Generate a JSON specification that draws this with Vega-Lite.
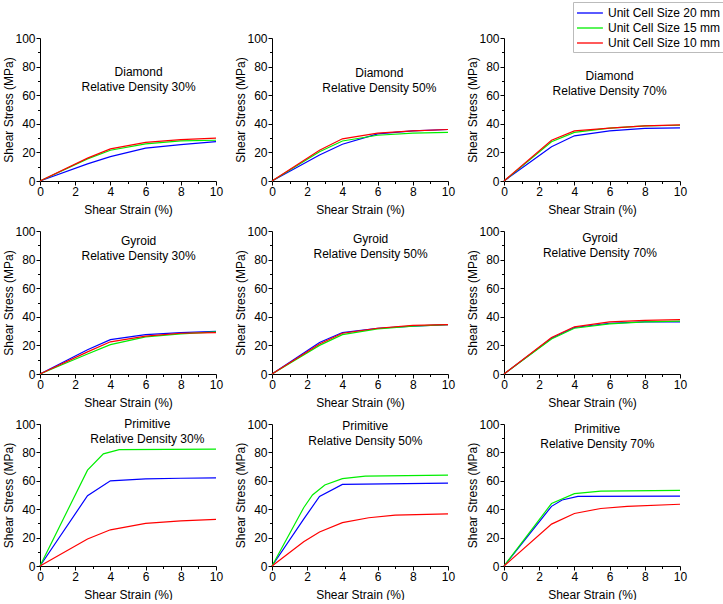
{
  "$schema": "https://vega.github.io/schema/vega-lite/v6.json",
  "padding": {"left": 2, "top": 1, "right": 0, "bottom": 0},
  "background": "white",
  "datasets": {
    "curves": [
      {"panel":"D30","series":"Unit Cell Size 20 mm","strain":0,"stress":0},
      {"panel":"D30","series":"Unit Cell Size 20 mm","strain":2.7,"stress":12},
      {"panel":"D30","series":"Unit Cell Size 20 mm","strain":4,"stress":17},
      {"panel":"D30","series":"Unit Cell Size 20 mm","strain":6,"stress":23},
      {"panel":"D30","series":"Unit Cell Size 20 mm","strain":8,"stress":25.5},
      {"panel":"D30","series":"Unit Cell Size 20 mm","strain":10,"stress":27.5},
      {"panel":"D30","series":"Unit Cell Size 15 mm","strain":0,"stress":0},
      {"panel":"D30","series":"Unit Cell Size 15 mm","strain":2.7,"stress":15.5},
      {"panel":"D30","series":"Unit Cell Size 15 mm","strain":4,"stress":21.5},
      {"panel":"D30","series":"Unit Cell Size 15 mm","strain":6,"stress":26},
      {"panel":"D30","series":"Unit Cell Size 15 mm","strain":8,"stress":28},
      {"panel":"D30","series":"Unit Cell Size 15 mm","strain":10,"stress":28.5},
      {"panel":"D30","series":"Unit Cell Size 10 mm","strain":0,"stress":0},
      {"panel":"D30","series":"Unit Cell Size 10 mm","strain":2.7,"stress":16},
      {"panel":"D30","series":"Unit Cell Size 10 mm","strain":4,"stress":22.5},
      {"panel":"D30","series":"Unit Cell Size 10 mm","strain":6,"stress":27},
      {"panel":"D30","series":"Unit Cell Size 10 mm","strain":8,"stress":29},
      {"panel":"D30","series":"Unit Cell Size 10 mm","strain":10,"stress":30},

      {"panel":"D50","series":"Unit Cell Size 20 mm","strain":0,"stress":0},
      {"panel":"D50","series":"Unit Cell Size 20 mm","strain":2.7,"stress":18.2},
      {"panel":"D50","series":"Unit Cell Size 20 mm","strain":4,"stress":25.7},
      {"panel":"D50","series":"Unit Cell Size 20 mm","strain":6,"stress":33},
      {"panel":"D50","series":"Unit Cell Size 20 mm","strain":8,"stress":35},
      {"panel":"D50","series":"Unit Cell Size 20 mm","strain":10,"stress":36},
      {"panel":"D50","series":"Unit Cell Size 15 mm","strain":0,"stress":0},
      {"panel":"D50","series":"Unit Cell Size 15 mm","strain":2.7,"stress":20.5},
      {"panel":"D50","series":"Unit Cell Size 15 mm","strain":4,"stress":28},
      {"panel":"D50","series":"Unit Cell Size 15 mm","strain":6,"stress":32},
      {"panel":"D50","series":"Unit Cell Size 15 mm","strain":8,"stress":33.5},
      {"panel":"D50","series":"Unit Cell Size 15 mm","strain":10,"stress":34},
      {"panel":"D50","series":"Unit Cell Size 10 mm","strain":0,"stress":0},
      {"panel":"D50","series":"Unit Cell Size 10 mm","strain":2.7,"stress":21.5},
      {"panel":"D50","series":"Unit Cell Size 10 mm","strain":4,"stress":29.5},
      {"panel":"D50","series":"Unit Cell Size 10 mm","strain":6,"stress":33.5},
      {"panel":"D50","series":"Unit Cell Size 10 mm","strain":8,"stress":35},
      {"panel":"D50","series":"Unit Cell Size 10 mm","strain":10,"stress":36},

      {"panel":"D70","series":"Unit Cell Size 20 mm","strain":0,"stress":0},
      {"panel":"D70","series":"Unit Cell Size 20 mm","strain":2.7,"stress":24},
      {"panel":"D70","series":"Unit Cell Size 20 mm","strain":4,"stress":31.6},
      {"panel":"D70","series":"Unit Cell Size 20 mm","strain":6,"stress":35},
      {"panel":"D70","series":"Unit Cell Size 20 mm","strain":8,"stress":36.8},
      {"panel":"D70","series":"Unit Cell Size 20 mm","strain":10,"stress":37.2},
      {"panel":"D70","series":"Unit Cell Size 15 mm","strain":0,"stress":0},
      {"panel":"D70","series":"Unit Cell Size 15 mm","strain":2.7,"stress":27.5},
      {"panel":"D70","series":"Unit Cell Size 15 mm","strain":4,"stress":34},
      {"panel":"D70","series":"Unit Cell Size 15 mm","strain":6,"stress":37},
      {"panel":"D70","series":"Unit Cell Size 15 mm","strain":8,"stress":38.5},
      {"panel":"D70","series":"Unit Cell Size 15 mm","strain":10,"stress":39},
      {"panel":"D70","series":"Unit Cell Size 10 mm","strain":0,"stress":0},
      {"panel":"D70","series":"Unit Cell Size 10 mm","strain":2.7,"stress":28.5},
      {"panel":"D70","series":"Unit Cell Size 10 mm","strain":4,"stress":35},
      {"panel":"D70","series":"Unit Cell Size 10 mm","strain":6,"stress":37},
      {"panel":"D70","series":"Unit Cell Size 10 mm","strain":8,"stress":38.5},
      {"panel":"D70","series":"Unit Cell Size 10 mm","strain":10,"stress":39.3},

      {"panel":"G30","series":"Unit Cell Size 20 mm","strain":0,"stress":0},
      {"panel":"G30","series":"Unit Cell Size 20 mm","strain":2.7,"stress":17},
      {"panel":"G30","series":"Unit Cell Size 20 mm","strain":4,"stress":24},
      {"panel":"G30","series":"Unit Cell Size 20 mm","strain":6,"stress":27.5},
      {"panel":"G30","series":"Unit Cell Size 20 mm","strain":8,"stress":29},
      {"panel":"G30","series":"Unit Cell Size 20 mm","strain":10,"stress":29.8},
      {"panel":"G30","series":"Unit Cell Size 15 mm","strain":0,"stress":0},
      {"panel":"G30","series":"Unit Cell Size 15 mm","strain":2.7,"stress":14},
      {"panel":"G30","series":"Unit Cell Size 15 mm","strain":4,"stress":20.5},
      {"panel":"G30","series":"Unit Cell Size 15 mm","strain":6,"stress":26},
      {"panel":"G30","series":"Unit Cell Size 15 mm","strain":8,"stress":28},
      {"panel":"G30","series":"Unit Cell Size 15 mm","strain":10,"stress":29.5},
      {"panel":"G30","series":"Unit Cell Size 10 mm","strain":0,"stress":0},
      {"panel":"G30","series":"Unit Cell Size 10 mm","strain":2.7,"stress":15.5},
      {"panel":"G30","series":"Unit Cell Size 10 mm","strain":4,"stress":22.5},
      {"panel":"G30","series":"Unit Cell Size 10 mm","strain":6,"stress":26.5},
      {"panel":"G30","series":"Unit Cell Size 10 mm","strain":8,"stress":28.5},
      {"panel":"G30","series":"Unit Cell Size 10 mm","strain":10,"stress":29},

      {"panel":"G50","series":"Unit Cell Size 20 mm","strain":0,"stress":0},
      {"panel":"G50","series":"Unit Cell Size 20 mm","strain":2.7,"stress":22},
      {"panel":"G50","series":"Unit Cell Size 20 mm","strain":4,"stress":29},
      {"panel":"G50","series":"Unit Cell Size 20 mm","strain":6,"stress":32},
      {"panel":"G50","series":"Unit Cell Size 20 mm","strain":8,"stress":33.5},
      {"panel":"G50","series":"Unit Cell Size 20 mm","strain":10,"stress":34.5},
      {"panel":"G50","series":"Unit Cell Size 15 mm","strain":0,"stress":0},
      {"panel":"G50","series":"Unit Cell Size 15 mm","strain":2.7,"stress":20},
      {"panel":"G50","series":"Unit Cell Size 15 mm","strain":4,"stress":27.5},
      {"panel":"G50","series":"Unit Cell Size 15 mm","strain":6,"stress":31.5},
      {"panel":"G50","series":"Unit Cell Size 15 mm","strain":8,"stress":33.5},
      {"panel":"G50","series":"Unit Cell Size 15 mm","strain":10,"stress":34.5},
      {"panel":"G50","series":"Unit Cell Size 10 mm","strain":0,"stress":0},
      {"panel":"G50","series":"Unit Cell Size 10 mm","strain":2.7,"stress":21},
      {"panel":"G50","series":"Unit Cell Size 10 mm","strain":4,"stress":28.5},
      {"panel":"G50","series":"Unit Cell Size 10 mm","strain":6,"stress":32},
      {"panel":"G50","series":"Unit Cell Size 10 mm","strain":8,"stress":34},
      {"panel":"G50","series":"Unit Cell Size 10 mm","strain":10,"stress":34.5},

      {"panel":"G70","series":"Unit Cell Size 20 mm","strain":0,"stress":0},
      {"panel":"G70","series":"Unit Cell Size 20 mm","strain":2.7,"stress":25},
      {"panel":"G70","series":"Unit Cell Size 20 mm","strain":4,"stress":32.5},
      {"panel":"G70","series":"Unit Cell Size 20 mm","strain":6,"stress":35.5},
      {"panel":"G70","series":"Unit Cell Size 20 mm","strain":8,"stress":36.5},
      {"panel":"G70","series":"Unit Cell Size 20 mm","strain":10,"stress":36.5},
      {"panel":"G70","series":"Unit Cell Size 15 mm","strain":0,"stress":0},
      {"panel":"G70","series":"Unit Cell Size 15 mm","strain":2.7,"stress":24.5},
      {"panel":"G70","series":"Unit Cell Size 15 mm","strain":4,"stress":32},
      {"panel":"G70","series":"Unit Cell Size 15 mm","strain":6,"stress":35},
      {"panel":"G70","series":"Unit Cell Size 15 mm","strain":8,"stress":36.5},
      {"panel":"G70","series":"Unit Cell Size 15 mm","strain":10,"stress":37},
      {"panel":"G70","series":"Unit Cell Size 10 mm","strain":0,"stress":0},
      {"panel":"G70","series":"Unit Cell Size 10 mm","strain":2.7,"stress":25.5},
      {"panel":"G70","series":"Unit Cell Size 10 mm","strain":4,"stress":33},
      {"panel":"G70","series":"Unit Cell Size 10 mm","strain":6,"stress":36.5},
      {"panel":"G70","series":"Unit Cell Size 10 mm","strain":8,"stress":37.5},
      {"panel":"G70","series":"Unit Cell Size 10 mm","strain":10,"stress":38},

      {"panel":"P30","series":"Unit Cell Size 20 mm","strain":0,"stress":0},
      {"panel":"P30","series":"Unit Cell Size 20 mm","strain":2.7,"stress":49.5},
      {"panel":"P30","series":"Unit Cell Size 20 mm","strain":4,"stress":60},
      {"panel":"P30","series":"Unit Cell Size 20 mm","strain":6,"stress":61.3},
      {"panel":"P30","series":"Unit Cell Size 20 mm","strain":8,"stress":61.8},
      {"panel":"P30","series":"Unit Cell Size 20 mm","strain":10,"stress":62},
      {"panel":"P30","series":"Unit Cell Size 15 mm","strain":0,"stress":0},
      {"panel":"P30","series":"Unit Cell Size 15 mm","strain":2.7,"stress":67.5},
      {"panel":"P30","series":"Unit Cell Size 15 mm","strain":3.6,"stress":79},
      {"panel":"P30","series":"Unit Cell Size 15 mm","strain":4.5,"stress":82},
      {"panel":"P30","series":"Unit Cell Size 15 mm","strain":10,"stress":82.3},
      {"panel":"P30","series":"Unit Cell Size 10 mm","strain":0,"stress":0},
      {"panel":"P30","series":"Unit Cell Size 10 mm","strain":2.7,"stress":19},
      {"panel":"P30","series":"Unit Cell Size 10 mm","strain":4,"stress":25.5},
      {"panel":"P30","series":"Unit Cell Size 10 mm","strain":6,"stress":30},
      {"panel":"P30","series":"Unit Cell Size 10 mm","strain":8,"stress":31.8},
      {"panel":"P30","series":"Unit Cell Size 10 mm","strain":10,"stress":32.8},

      {"panel":"P50","series":"Unit Cell Size 20 mm","strain":0,"stress":0},
      {"panel":"P50","series":"Unit Cell Size 20 mm","strain":1.8,"stress":33},
      {"panel":"P50","series":"Unit Cell Size 20 mm","strain":2.7,"stress":49},
      {"panel":"P50","series":"Unit Cell Size 20 mm","strain":4,"stress":57.5},
      {"panel":"P50","series":"Unit Cell Size 20 mm","strain":10,"stress":58.3},
      {"panel":"P50","series":"Unit Cell Size 15 mm","strain":0,"stress":0},
      {"panel":"P50","series":"Unit Cell Size 15 mm","strain":1.8,"stress":41},
      {"panel":"P50","series":"Unit Cell Size 15 mm","strain":2.3,"stress":50},
      {"panel":"P50","series":"Unit Cell Size 15 mm","strain":3,"stress":57},
      {"panel":"P50","series":"Unit Cell Size 15 mm","strain":4,"stress":61.5},
      {"panel":"P50","series":"Unit Cell Size 15 mm","strain":5.3,"stress":63.3},
      {"panel":"P50","series":"Unit Cell Size 15 mm","strain":10,"stress":64},
      {"panel":"P50","series":"Unit Cell Size 10 mm","strain":0,"stress":0},
      {"panel":"P50","series":"Unit Cell Size 10 mm","strain":1.8,"stress":17},
      {"panel":"P50","series":"Unit Cell Size 10 mm","strain":2.7,"stress":24},
      {"panel":"P50","series":"Unit Cell Size 10 mm","strain":4,"stress":30.5},
      {"panel":"P50","series":"Unit Cell Size 10 mm","strain":5.5,"stress":34},
      {"panel":"P50","series":"Unit Cell Size 10 mm","strain":7,"stress":35.8},
      {"panel":"P50","series":"Unit Cell Size 10 mm","strain":10,"stress":36.7},

      {"panel":"P70","series":"Unit Cell Size 20 mm","strain":0,"stress":0},
      {"panel":"P70","series":"Unit Cell Size 20 mm","strain":2.7,"stress":42},
      {"panel":"P70","series":"Unit Cell Size 20 mm","strain":3.3,"stress":46.5},
      {"panel":"P70","series":"Unit Cell Size 20 mm","strain":4.2,"stress":49},
      {"panel":"P70","series":"Unit Cell Size 20 mm","strain":10,"stress":49.2},
      {"panel":"P70","series":"Unit Cell Size 15 mm","strain":0,"stress":0},
      {"panel":"P70","series":"Unit Cell Size 15 mm","strain":2.7,"stress":44},
      {"panel":"P70","series":"Unit Cell Size 15 mm","strain":4,"stress":51},
      {"panel":"P70","series":"Unit Cell Size 15 mm","strain":5.5,"stress":52.7},
      {"panel":"P70","series":"Unit Cell Size 15 mm","strain":10,"stress":53.3},
      {"panel":"P70","series":"Unit Cell Size 10 mm","strain":0,"stress":0},
      {"panel":"P70","series":"Unit Cell Size 10 mm","strain":2.7,"stress":29.5},
      {"panel":"P70","series":"Unit Cell Size 10 mm","strain":4,"stress":37},
      {"panel":"P70","series":"Unit Cell Size 10 mm","strain":5.5,"stress":40.5},
      {"panel":"P70","series":"Unit Cell Size 10 mm","strain":7,"stress":42},
      {"panel":"P70","series":"Unit Cell Size 10 mm","strain":10,"stress":43.5}
    ],
    "titles": [
      {"panel":"D30","label":"Diamond\nRelative Density 30%"},
      {"panel":"D50","label":"Diamond\nRelative Density 50%"},
      {"panel":"D70","label":"Diamond\nRelative Density 70%"},
      {"panel":"G30","label":"Gyroid\nRelative Density 30%"},
      {"panel":"G50","label":"Gyroid\nRelative Density 50%"},
      {"panel":"G70","label":"Gyroid\nRelative Density 70%"},
      {"panel":"P30","label":"Primitive\nRelative Density 30%"},
      {"panel":"P50","label":"Primitive\nRelative Density 50%"},
      {"panel":"P70","label":"Primitive\nRelative Density 70%"}
    ]
  },
  "data": {"name": "curves"},
  "columns": 3,
  "spacing": {"row": 50, "column": 56},
  "bounds": "flush",
  "concat": [
      {"width":176,"height":143,"resolve":{"axis":{"x":"independent","y":"independent"}},"layer":[
        {"transform":[{"filter":"datum.panel === 'D30'"}],"mark":{"type":"line","strokeWidth":1.2},"encoding":{"x":{"field":"strain","type":"quantitative","scale":{"domain":[0,10],"nice":false},"axis":{"title":"Shear Strain (%)","orient":"bottom","values":[0,2,4,6,8,10]}},"y":{"field":"stress","type":"quantitative","scale":{"domain":[0,100],"nice":false},"axis":{"title":"Shear Stress (MPa)","orient":"left","values":[0,20,40,60,80,100]}},"color":{"field":"series","type":"nominal","scale":{"domain":["Unit Cell Size 20 mm","Unit Cell Size 15 mm","Unit Cell Size 10 mm"],"range":["#0000ff","#00ee00","#ff0000"]},"legend":{"title":null,"orient":"none","legendX":533,"legendY":-36}}}},
        {"data":{"name":"titles"},"transform":[{"filter":"datum.panel === 'D30'"}],"mark":{"type":"text","lineBreak":"\n","fontSize":12,"lineHeight":15,"baseline":"middle","align":"center","font":"Liberation Sans","color":"#000"},"encoding":{"x":{"datum":5.6,"type":"quantitative","axis":{"orient":"bottom","values":[1,3,5,7,9],"labels":false,"domain":false,"title":null,"tickSize":2.5}},"y":{"datum":76.2,"type":"quantitative","axis":{"orient":"left","values":[10,30,50,70,90],"labels":false,"domain":false,"title":null,"tickSize":2.5}},"text":{"field":"label"}}}
      ]},
      {"width":176,"height":143,"resolve":{"axis":{"x":"independent","y":"independent"}},"layer":[
        {"transform":[{"filter":"datum.panel === 'D50'"}],"mark":{"type":"line","strokeWidth":1.2},"encoding":{"x":{"field":"strain","type":"quantitative","scale":{"domain":[0,10],"nice":false},"axis":{"title":"Shear Strain (%)","orient":"bottom","values":[0,2,4,6,8,10]}},"y":{"field":"stress","type":"quantitative","scale":{"domain":[0,100],"nice":false},"axis":{"title":"Shear Stress (MPa)","orient":"left","values":[0,20,40,60,80,100]}},"color":{"field":"series","type":"nominal"}}},
        {"data":{"name":"titles"},"transform":[{"filter":"datum.panel === 'D50'"}],"mark":{"type":"text","lineBreak":"\n","fontSize":12,"lineHeight":15,"baseline":"middle","align":"center","font":"Liberation Sans","color":"#000"},"encoding":{"x":{"datum":6.1,"type":"quantitative","axis":{"orient":"bottom","values":[1,3,5,7,9],"labels":false,"domain":false,"title":null,"tickSize":2.5}},"y":{"datum":75.7,"type":"quantitative","axis":{"orient":"left","values":[10,30,50,70,90],"labels":false,"domain":false,"title":null,"tickSize":2.5}},"text":{"field":"label"}}}
      ]},
      {"width":176,"height":143,"resolve":{"axis":{"x":"independent","y":"independent"}},"layer":[
        {"transform":[{"filter":"datum.panel === 'D70'"}],"mark":{"type":"line","strokeWidth":1.2},"encoding":{"x":{"field":"strain","type":"quantitative","scale":{"domain":[0,10],"nice":false},"axis":{"title":"Shear Strain (%)","orient":"bottom","values":[0,2,4,6,8,10]}},"y":{"field":"stress","type":"quantitative","scale":{"domain":[0,100],"nice":false},"axis":{"title":"Shear Stress (MPa)","orient":"left","values":[0,20,40,60,80,100]}},"color":{"field":"series","type":"nominal"}}},
        {"data":{"name":"titles"},"transform":[{"filter":"datum.panel === 'D70'"}],"mark":{"type":"text","lineBreak":"\n","fontSize":12,"lineHeight":15,"baseline":"middle","align":"center","font":"Liberation Sans","color":"#000"},"encoding":{"x":{"datum":6.0,"type":"quantitative","axis":{"orient":"bottom","values":[1,3,5,7,9],"labels":false,"domain":false,"title":null,"tickSize":2.5}},"y":{"datum":73.2,"type":"quantitative","axis":{"orient":"left","values":[10,30,50,70,90],"labels":false,"domain":false,"title":null,"tickSize":2.5}},"text":{"field":"label"}}}
      ]},
      {"width":176,"height":143,"resolve":{"axis":{"x":"independent","y":"independent"}},"layer":[
        {"transform":[{"filter":"datum.panel === 'G30'"}],"mark":{"type":"line","strokeWidth":1.2},"encoding":{"x":{"field":"strain","type":"quantitative","scale":{"domain":[0,10],"nice":false},"axis":{"title":"Shear Strain (%)","orient":"bottom","values":[0,2,4,6,8,10]}},"y":{"field":"stress","type":"quantitative","scale":{"domain":[0,100],"nice":false},"axis":{"title":"Shear Stress (MPa)","orient":"left","values":[0,20,40,60,80,100]}},"color":{"field":"series","type":"nominal"}}},
        {"data":{"name":"titles"},"transform":[{"filter":"datum.panel === 'G30'"}],"mark":{"type":"text","lineBreak":"\n","fontSize":12,"lineHeight":15,"baseline":"middle","align":"center","font":"Liberation Sans","color":"#000"},"encoding":{"x":{"datum":5.6,"type":"quantitative","axis":{"orient":"bottom","values":[1,3,5,7,9],"labels":false,"domain":false,"title":null,"tickSize":2.5}},"y":{"datum":93,"type":"quantitative","axis":{"orient":"left","values":[10,30,50,70,90],"labels":false,"domain":false,"title":null,"tickSize":2.5}},"text":{"field":"label"}}}
      ]},
      {"width":176,"height":143,"resolve":{"axis":{"x":"independent","y":"independent"}},"layer":[
        {"transform":[{"filter":"datum.panel === 'G50'"}],"mark":{"type":"line","strokeWidth":1.2},"encoding":{"x":{"field":"strain","type":"quantitative","scale":{"domain":[0,10],"nice":false},"axis":{"title":"Shear Strain (%)","orient":"bottom","values":[0,2,4,6,8,10]}},"y":{"field":"stress","type":"quantitative","scale":{"domain":[0,100],"nice":false},"axis":{"title":"Shear Stress (MPa)","orient":"left","values":[0,20,40,60,80,100]}},"color":{"field":"series","type":"nominal"}}},
        {"data":{"name":"titles"},"transform":[{"filter":"datum.panel === 'G50'"}],"mark":{"type":"text","lineBreak":"\n","fontSize":12,"lineHeight":15,"baseline":"middle","align":"center","font":"Liberation Sans","color":"#000"},"encoding":{"x":{"datum":5.6,"type":"quantitative","axis":{"orient":"bottom","values":[1,3,5,7,9],"labels":false,"domain":false,"title":null,"tickSize":2.5}},"y":{"datum":94.2,"type":"quantitative","axis":{"orient":"left","values":[10,30,50,70,90],"labels":false,"domain":false,"title":null,"tickSize":2.5}},"text":{"field":"label"}}}
      ]},
      {"width":176,"height":143,"resolve":{"axis":{"x":"independent","y":"independent"}},"layer":[
        {"transform":[{"filter":"datum.panel === 'G70'"}],"mark":{"type":"line","strokeWidth":1.2},"encoding":{"x":{"field":"strain","type":"quantitative","scale":{"domain":[0,10],"nice":false},"axis":{"title":"Shear Strain (%)","orient":"bottom","values":[0,2,4,6,8,10]}},"y":{"field":"stress","type":"quantitative","scale":{"domain":[0,100],"nice":false},"axis":{"title":"Shear Stress (MPa)","orient":"left","values":[0,20,40,60,80,100]}},"color":{"field":"series","type":"nominal"}}},
        {"data":{"name":"titles"},"transform":[{"filter":"datum.panel === 'G70'"}],"mark":{"type":"text","lineBreak":"\n","fontSize":12,"lineHeight":15,"baseline":"middle","align":"center","font":"Liberation Sans","color":"#000"},"encoding":{"x":{"datum":5.45,"type":"quantitative","axis":{"orient":"bottom","values":[1,3,5,7,9],"labels":false,"domain":false,"title":null,"tickSize":2.5}},"y":{"datum":94.9,"type":"quantitative","axis":{"orient":"left","values":[10,30,50,70,90],"labels":false,"domain":false,"title":null,"tickSize":2.5}},"text":{"field":"label"}}}
      ]},
      {"width":176,"height":142,"resolve":{"axis":{"x":"independent","y":"independent"}},"layer":[
        {"transform":[{"filter":"datum.panel === 'P30'"}],"mark":{"type":"line","strokeWidth":1.2},"encoding":{"x":{"field":"strain","type":"quantitative","scale":{"domain":[0,10],"nice":false},"axis":{"title":"Shear Strain (%)","orient":"bottom","values":[0,2,4,6,8,10]}},"y":{"field":"stress","type":"quantitative","scale":{"domain":[0,100],"nice":false},"axis":{"title":"Shear Stress (MPa)","orient":"left","values":[0,20,40,60,80,100]}},"color":{"field":"series","type":"nominal"}}},
        {"data":{"name":"titles"},"transform":[{"filter":"datum.panel === 'P30'"}],"mark":{"type":"text","lineBreak":"\n","fontSize":12,"lineHeight":15,"baseline":"middle","align":"center","font":"Liberation Sans","color":"#000"},"encoding":{"x":{"datum":6.1,"type":"quantitative","axis":{"orient":"bottom","values":[1,3,5,7,9],"labels":false,"domain":false,"title":null,"tickSize":2.5}},"y":{"datum":99.8,"type":"quantitative","axis":{"orient":"left","values":[10,30,50,70,90],"labels":false,"domain":false,"title":null,"tickSize":2.5}},"text":{"field":"label"}}}
      ]},
      {"width":176,"height":142,"resolve":{"axis":{"x":"independent","y":"independent"}},"layer":[
        {"transform":[{"filter":"datum.panel === 'P50'"}],"mark":{"type":"line","strokeWidth":1.2},"encoding":{"x":{"field":"strain","type":"quantitative","scale":{"domain":[0,10],"nice":false},"axis":{"title":"Shear Strain (%)","orient":"bottom","values":[0,2,4,6,8,10]}},"y":{"field":"stress","type":"quantitative","scale":{"domain":[0,100],"nice":false},"axis":{"title":"Shear Stress (MPa)","orient":"left","values":[0,20,40,60,80,100]}},"color":{"field":"series","type":"nominal"}}},
        {"data":{"name":"titles"},"transform":[{"filter":"datum.panel === 'P50'"}],"mark":{"type":"text","lineBreak":"\n","fontSize":12,"lineHeight":15,"baseline":"middle","align":"center","font":"Liberation Sans","color":"#000"},"encoding":{"x":{"datum":5.3,"type":"quantitative","axis":{"orient":"bottom","values":[1,3,5,7,9],"labels":false,"domain":false,"title":null,"tickSize":2.5}},"y":{"datum":98.6,"type":"quantitative","axis":{"orient":"left","values":[10,30,50,70,90],"labels":false,"domain":false,"title":null,"tickSize":2.5}},"text":{"field":"label"}}}
      ]},
      {"width":176,"height":142,"resolve":{"axis":{"x":"independent","y":"independent"}},"layer":[
        {"transform":[{"filter":"datum.panel === 'P70'"}],"mark":{"type":"line","strokeWidth":1.2},"encoding":{"x":{"field":"strain","type":"quantitative","scale":{"domain":[0,10],"nice":false},"axis":{"title":"Shear Strain (%)","orient":"bottom","values":[0,2,4,6,8,10]}},"y":{"field":"stress","type":"quantitative","scale":{"domain":[0,100],"nice":false},"axis":{"title":"Shear Stress (MPa)","orient":"left","values":[0,20,40,60,80,100]}},"color":{"field":"series","type":"nominal"}}},
        {"data":{"name":"titles"},"transform":[{"filter":"datum.panel === 'P70'"}],"mark":{"type":"text","lineBreak":"\n","fontSize":12,"lineHeight":15,"baseline":"middle","align":"center","font":"Liberation Sans","color":"#000"},"encoding":{"x":{"datum":5.3,"type":"quantitative","axis":{"orient":"bottom","values":[1,3,5,7,9],"labels":false,"domain":false,"title":null,"tickSize":2.5}},"y":{"datum":96.3,"type":"quantitative","axis":{"orient":"left","values":[10,30,50,70,90],"labels":false,"domain":false,"title":null,"tickSize":2.5}},"text":{"field":"label"}}}
      ]}
  ],
  "config": {
    "view": {"stroke": null},
    "font": "Liberation Sans",
    "axis": {
      "grid": false,
      "domainColor": "#000",
      "domainWidth": 1,
      "tickColor": "#000",
      "tickWidth": 1,
      "tickSize": 4,
      "labelColor": "#000",
      "labelFont": "Liberation Sans",
      "labelFontSize": 12,
      "labelPadding": 1,
      "labelFlush": false,
      "labelOverlap": false,
      "titleColor": "#000",
      "titleFont": "Liberation Sans",
      "titleFontSize": 12,
      "titleFontWeight": "normal"
    },
    "axisX": {"titlePadding": 7},
    "axisY": {"titlePadding": -1},
    "legend": {
      "labelFont": "Liberation Sans",
      "labelFontSize": 12,
      "labelColor": "#000",
      "symbolType": "M-1,0H2.7",
      "symbolSize": 196,
      "symbolStrokeWidth": 1.3,
      "symbolFillColor": "transparent",
      "strokeColor": "#bbbbbb",
      "padding": 3,
      "rowPadding": 1,
      "labelOffset": 16,
      "fillColor": "#ffffff"
    }
  }
}
